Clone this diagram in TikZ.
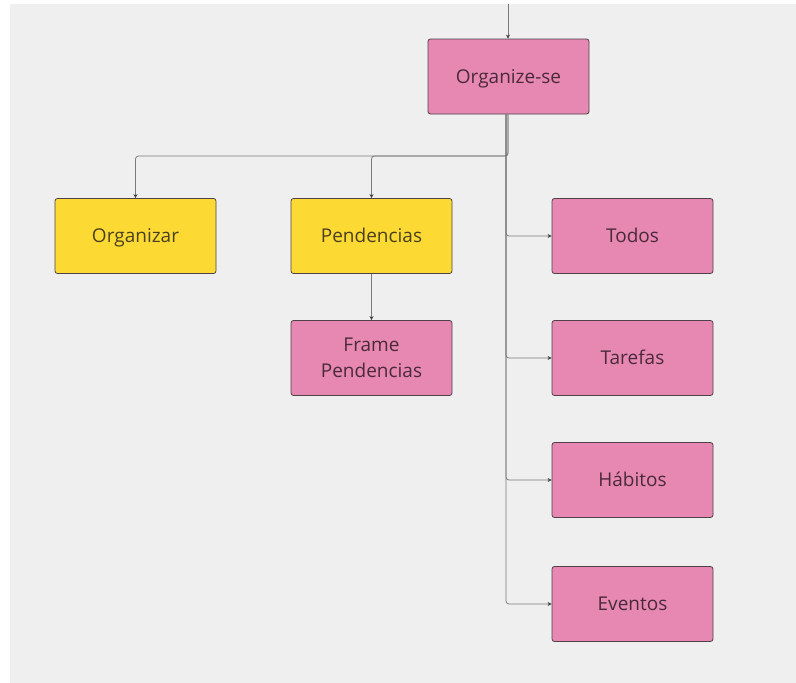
\documentclass[tikz,border=0pt]{standalone}
\usepackage{fontspec}
\setmainfont{Open Sans}
\usetikzlibrary{arrows.meta,calc}
\definecolor{canvas}{HTML}{EFEFEF}
\definecolor{pinkfill}{HTML}{E688B2}
\definecolor{yellowfill}{HTML}{FDDA33}
\definecolor{boxedge}{HTML}{4E4148}
\definecolor{pinktext}{HTML}{4A2A3A}
\definecolor{yellowtext}{HTML}{4A4020}
\definecolor{wire}{HTML}{7A7A7A}
\definecolor{tipcol}{HTML}{404040}
\tikzset{
  x=1pt, y=-1pt,
  card/.style={draw=boxedge, line width=0.8pt, rounded corners=2.5pt,
    minimum width=161pt, minimum height=75pt, align=center,
    font=\fontsize{19}{26}\selectfont, inner sep=0pt},
  oneline/.style={text height=13.6pt, text depth=0pt},
  pinkcard/.style={card, fill=pinkfill, text=pinktext},
  yellowcard/.style={card, fill=yellowfill, text=yellowtext},
  wireline/.style={draw=wire, line width=0.8pt, rounded corners=3pt,
    -{Stealth[length=4pt,width=4pt,color=tipcol]}},
}
\begin{document}
\begin{tikzpicture}
  % page and canvas
  \useasboundingbox (0,0) rectangle (796,683);
  \fill[white] (0,0) rectangle (796,683);
  \fill[canvas] (10,4) rectangle (796,683);

  % boxes
  \node[pinkcard,oneline]   (org)    at (508.5,76.5) {Organize-se};
  \node[yellowcard,oneline] (orgz)   at (135.5,236)  {Organizar};
  \node[yellowcard,oneline] (pend)   at (371.5,236)  {Pendencias};
  \node[pinkcard]           (frame)  at (371.5,358)  {Frame\\Pendencias};
  \node[pinkcard,oneline]   (todos)  at (632.5,236)  {Todos};
  \node[pinkcard,oneline]   (tar)    at (632.5,358)  {Tarefas};
  \node[pinkcard,oneline]   (hab)    at (632.5,480)  {Hábitos};
  \node[pinkcard,oneline]   (evt)    at (632.5,604)  {Eventos};

  % incoming link from above
  \coordinate (src) at (508,4);
  \draw[wireline] (src) -- (src |- org.north);

  % left branch
  \coordinate (lsplit) at (508,156);
  \draw[wireline] (lsplit |- org.south) -- (lsplit) -| (orgz.north);
  \draw[wireline] (lsplit |- org.south) -- (lsplit) -| (pend.north);
  \draw[wireline] (pend.south) -- (frame.north);

  % right branch
  \coordinate (rtrunk) at (506,114);
  \draw[wireline] (rtrunk) |- (todos.west);
  \draw[wireline] (rtrunk) |- (tar.west);
  \draw[wireline] (rtrunk) |- (hab.west);
  \draw[wireline] (rtrunk) |- (evt.west);
\end{tikzpicture}
\end{document}
